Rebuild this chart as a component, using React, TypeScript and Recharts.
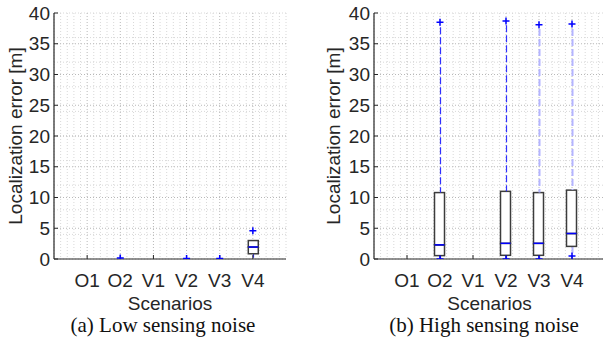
import React from 'react';

import { Bar, CartesianGrid, ComposedChart, Label, Scatter, XAxis, YAxis } from 'recharts';

const scenarios = ['O1', 'O2', 'V1', 'V2', 'V3', 'V4'];
const positions = [1, 2, 3, 4, 5, 6];
const yTicks = [0, 5, 10, 15, 20, 25, 30, 35, 40];

// (a) low sensing noise
const lowWhiskerMin = [0, 0, 0, 0, 0, 0.2];
const lowQ1 = [0, 0, 0, 0, 0, 0.85];
const lowMedian = [0, 0, 0, 0, 0, 1.95];
const lowQ3 = [0, 0, 0, 0, 0, 3.0];
const lowWhiskerMax = [0, 0, 0, 0, 0, 3.0];
const lowOutliers = [
  { x: 2, y: 0.15 },
  { x: 4, y: 0.1 },
  { x: 5, y: 0.1 },
  { x: 6, y: 4.6 },
];

// (b) high sensing noise
const highWhiskerMin = [0, 0.05, 0, 0.05, 0.05, 1.0];
const highQ1 = [0, 0.55, 0, 0.6, 0.6, 2.05];
const highMedian = [0, 2.3, 0, 2.55, 2.55, 4.15];
const highQ3 = [0, 10.8, 0, 11.0, 10.8, 11.2];
const highWhiskerMax = [0, 37.7, 0, 38.0, 37.4, 37.4];
const highOutliers = [
  { x: 2, y: 38.5 },
  { x: 2, y: 0 },
  { x: 4, y: 38.7 },
  { x: 4, y: 0 },
  { x: 5, y: 38.1 },
  { x: 5, y: 0 },
  { x: 6, y: 38.2 },
  { x: 6, y: 0.5 },
];

const minorX = Array.from({ length: 36 }, (_, i) => Math.round(i * 2) / 10);
const minorY = Array.from({ length: 41 }, (_, i) => i);
const majorY = [5, 10, 15, 20, 25, 30, 35];

const buildRows = (wMin: number[], q1: number[], med: number[], q3: number[], wMax: number[]) =>
  scenarios.map((name, i) => ({
    name,
    x: positions[i],
    base: wMin[i],
    lowW: q1[i] - wMin[i],
    lowBox: med[i] - q1[i],
    highBox: q3[i] - med[i],
    highW: wMax[i] - q3[i],
  }));

const lowRows = buildRows(lowWhiskerMin, lowQ1, lowMedian, lowQ3, lowWhiskerMax);
const highRows = buildRows(highWhiskerMin, highQ1, highMedian, highQ3, highWhiskerMax);

const AXIS = '#262626';
const BLUE = '#0000ff';
const FONT = '"Liberation Sans", Arial, Helvetica, sans-serif';

const empty = () => <g />;

const whisker = (faded: string[]) => (props: any) => {
  const { x, y, width, height, payload } = props;
  if (!height || height <= 0) return <g />;
  const cx = Math.round(x + width / 2) + 0.5;
  const light = faded.includes(payload?.name);
  return (
    <line
      x1={cx}
      x2={cx}
      y1={y}
      y2={y + height}
      stroke={light ? '#b4b4ff' : '#3030ff'}
      strokeWidth={light ? 2 : 1.2}
      strokeDasharray="7 3"
    />
  );
};

const lowerBox = (props: any) => {
  const { x, y, width, height } = props;
  if (!height || height <= 0) return <g />;
  return <rect x={x} y={y} width={width} height={height} fill="#fff" stroke="#3c3c3c" strokeWidth={1.5} />;
};

const upperBox = (props: any) => {
  const { x, y, width, height } = props;
  if (!height || height <= 0) return <g />;
  return (
    <g>
      <rect x={x} y={y} width={width} height={height} fill="#fff" stroke="#3c3c3c" strokeWidth={1.5} />
      <line x1={x} x2={x + width} y1={y + height} y2={y + height} stroke={BLUE} strokeWidth={1.5} />
    </g>
  );
};

const plus = (props: any) => {
  const { cx, cy } = props;
  return (
    <path
      d={`M${cx - 3.5},${cy}H${cx + 3.5}M${cx},${cy - 3.5}V${cy + 3.5}`}
      stroke={BLUE}
      strokeWidth={1.5}
      fill="none"
    />
  );
};

type PanelProps = {
  caption: string;
  rows: typeof lowRows;
  outliers: { x: number; y: number }[];
  left: number;
  width: number;
  marginRight: number;
  axisWidth: number;
  labelOffset: number;
  captionX: number;
  faded?: string[];
};

const tickStyle = { fontSize: 19, fill: AXIS, fontFamily: FONT };

const Panel = ({
  caption,
  rows,
  outliers,
  left,
  width,
  marginRight,
  axisWidth,
  labelOffset,
  captionX,
  faded = [],
}: PanelProps) => (
  <div style={{ position: 'absolute', left, top: 0, width, height: 338, fontFamily: FONT }}>
    <ComposedChart
      width={width}
      height={338}
      data={rows}
      margin={{ top: 13, right: marginRight, bottom: 0, left: 0 }}
    >
      <CartesianGrid
        horizontalValues={minorY}
        verticalValues={minorX}
        stroke="#d8d8d8"
        strokeDasharray="1 2"
      />
      <CartesianGrid
        horizontalValues={majorY}
        verticalValues={positions}
        stroke="#b8b8b8"
        strokeDasharray="1 2"
      />
      <XAxis
        dataKey="x"
        type="number"
        domain={[0, 7]}
        ticks={positions}
        allowDataOverflow
        tickFormatter={(v: number) => scenarios[positions.indexOf(v)] ?? ''}
        tick={tickStyle}
        tickSize={-4}
        tickMargin={19}
        height={79}
        stroke={AXIS}
        axisLine={{ stroke: AXIS, strokeWidth: 1.2 }}
        tickLine={{ stroke: AXIS }}
      >
        <Label
          value="Scenarios"
          position="insideTop"
          offset={38}
          style={{ fontSize: 19, fill: AXIS, fontFamily: FONT }}
        />
      </XAxis>
      <XAxis
        xAxisId="top"
        orientation="top"
        type="number"
        domain={[0, 7]}
        ticks={positions}
        tick={false}
        tickSize={-4}
        height={0}
        axisLine={{ stroke: AXIS, strokeWidth: 1.2 }}
        tickLine={{ stroke: AXIS }}
      />
      <YAxis
        type="number"
        domain={[0, 40]}
        ticks={yTicks}
        allowDataOverflow
        width={axisWidth}
        tick={tickStyle}
        tickSize={-4}
        tickMargin={8}
        axisLine={{ stroke: AXIS, strokeWidth: 1.2 }}
        tickLine={{ stroke: AXIS }}
      >
        <Label
          value="Localization error [m]"
          angle={-90}
          position="insideLeft"
          offset={labelOffset}
          style={{ fontSize: 19, fill: AXIS, textAnchor: 'middle', fontFamily: FONT }}
        />
      </YAxis>
      <YAxis
        yAxisId="right"
        orientation="right"
        type="number"
        domain={[0, 40]}
        ticks={yTicks}
        tick={false}
        tickSize={-4}
        width={0}
        axisLine={{ stroke: AXIS, strokeWidth: 1.2 }}
        tickLine={{ stroke: AXIS }}
      />
      <Bar dataKey="base" stackId="box" barSize={10} shape={empty} isAnimationActive={false} />
      <Bar dataKey="lowW" stackId="box" barSize={10} shape={whisker(faded)} isAnimationActive={false} />
      <Bar dataKey="lowBox" stackId="box" barSize={10} shape={lowerBox} isAnimationActive={false} />
      <Bar dataKey="highBox" stackId="box" barSize={10} shape={upperBox} isAnimationActive={false} />
      <Bar dataKey="highW" stackId="box" barSize={10} shape={whisker(faded)} isAnimationActive={false} />
      <Scatter data={outliers} dataKey="y" shape={plus} isAnimationActive={false} />
    </ComposedChart>
    <div
      style={{
        position: 'absolute',
        left: captionX - 150,
        width: 300,
        top: 314,
        textAlign: 'center',
        fontFamily: '"Liberation Serif", "Times New Roman", serif',
        fontSize: 21,
        lineHeight: '22px',
        color: '#111',
        whiteSpace: 'nowrap',
      }}
    >
      {caption}
    </div>
  </div>
);

export default function App() {
  return (
    <div
      style={{
        position: 'absolute',
        left: 0,
        top: 0,
        width: 603,
        height: 338,
        overflow: 'hidden',
        background: '#fff',
        fontFamily: FONT,
      }}
    >
      <Panel
        caption="(a) Low sensing noise"
        rows={lowRows}
        outliers={lowOutliers}
        left={0}
        width={300}
        marginRight={14}
        axisWidth={54}
        labelOffset={15}
        captionX={163}
      />
      <Panel
        caption="(b) High sensing noise"
        rows={highRows}
        outliers={highOutliers}
        left={300}
        width={310}
        marginRight={5}
        axisWidth={74}
        labelOffset={33}
        captionX={184}
        faded={['V3', 'V4']}
      />
    </div>
  );
}
